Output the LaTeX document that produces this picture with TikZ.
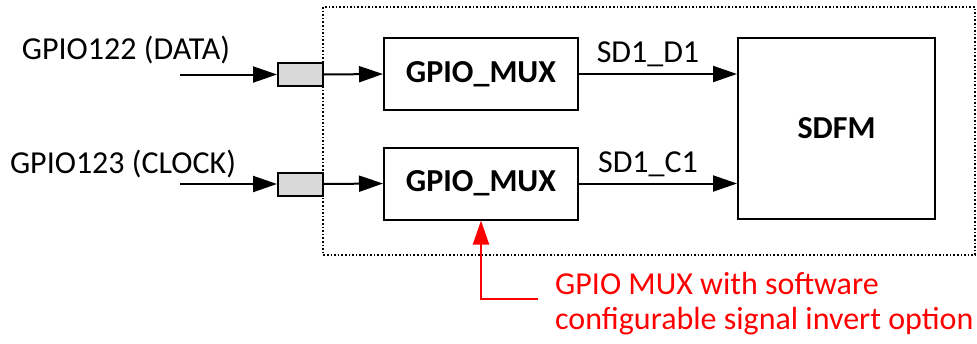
\documentclass[tikz,border=0pt]{standalone}
\usepackage{fontspec}
\setmainfont{Carlito}
\usetikzlibrary{arrows.meta,positioning}

\begin{document}
\begin{tikzpicture}[x=1pt,y=-1pt,line join=miter,>={Triangle[length=24pt,width=16pt]},
  box/.style={draw,line width=2pt,minimum width=194pt,minimum height=72pt,font=\fontsize{32}{36}\selectfont\bfseries},
  pad/.style={draw,fill=black!15,line width=2pt,minimum width=45pt,minimum height=23pt,inner sep=0pt},
  lbl/.style={font=\fontsize{32}{35}\selectfont,inner sep=0pt},
  wire/.style={->,line width=2pt}]
\useasboundingbox (0,0) rectangle (977,343);
% dotted frame round the mux and the sdfm
\draw[dotted,line width=1.6pt] (323,7) rectangle (975,255);
\node[box] (muxa) at (481,74) {GPIO\_MUX};
\node[box] (muxb) at (481,183.5) {GPIO\_MUX};
\node[box,minimum width=197pt,minimum height=181pt] (sdfm) at (836.5,128.5) {SDFM};
\node[pad] (pada) at (300.5,74.5) {};
\node[pad] (padb) at (300.5,184) {};
% inputs
\coordinate (ina) at (180,74.5);
\coordinate (inb) at (180,184);
\node[lbl] (laba) at (126,50) {GPIO122 (DATA)};
\node[lbl] (labb) at (123,164) {GPIO123 (CLOCK)};
\draw[wire] (ina) -- (pada.west);
\draw[wire] (inb) -- (padb.west);
\draw[wire] (pada.east) -- (muxa.west);
\draw[wire] (padb.east) -- (muxb.west);
% outputs to the sdfm
\draw[wire] (muxa.east) -- node[lbl,above=6pt,xshift=-10pt] {SD1\_D1} (muxa.east -| sdfm.west);
\draw[wire] (muxb.east) -- node[lbl,above=6pt,xshift=-10pt] {SD1\_C1} (muxb.east -| sdfm.west);
% note
\coordinate (note) at (538,299);
\draw[wire,red] (note) -| (muxb.south);
\node[lbl,red,anchor=west,align=left] (txt) at (555,304) {GPIO MUX with software\\configurable signal invert option};
\end{tikzpicture}
\end{document}
